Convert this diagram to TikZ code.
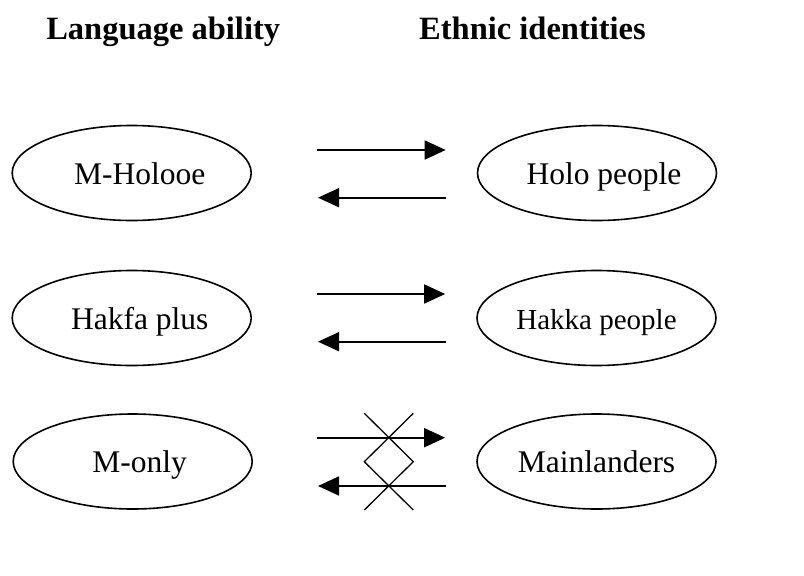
\documentclass[tikz,border=0pt]{standalone}
\usepackage{fontspec}
\setmainfont{Liberation Serif}
\usetikzlibrary{arrows.meta}
\usetikzlibrary{shapes.geometric}

\tikzset{
    group/.style={ellipse, draw, line width=1.6pt, minimum width=239pt, minimum height=95pt,
        inner sep=0pt, text height=22pt, text depth=0pt, font=\fontsize{31.5}{36}\selectfont},
    heading/.style={anchor=base, font=\bfseries\fontsize{32.5}{38}\selectfont},
    link/.style={line width=1.8pt, -{Triangle[length=21pt, width=19pt]}},
}

\begin{document}
\begin{tikzpicture}[x=1pt, y=-1pt]
        \useasboundingbox (0, 0) rectangle (804, 576);
        \node[heading] (hability) at (163.2, 39.5) {Language ability};
        \node[heading] (hidentity) at (532.5, 39.5) {Ethnic identities};
        %%%
        \node[group] (holooe) at (131.7, 173) {\hspace*{16pt}M-Holooe};
        \node[group] (hakfa) at (131.7, 318) {\hspace*{16pt}Hakfa plus};
        \node[group] (monly) at (132.7, 461.5) {\hspace*{14pt}M-only};
        \node[group] (holo) at (597, 173) {\hspace*{14pt}Holo people};
        \node[group, font=\fontsize{29}{34}\selectfont] (hakka) at (596.5, 318) {Hakka people};
        \node[group] (mainland) at (596.5, 461.5) {Mainlanders};
        %%%
        \draw[link, shorten <=65pt, shorten >=31pt] ([yshift=23pt]holooe.east) -- ([yshift=23pt]holo.west);
        \draw[link, shorten <=30.5pt, shorten >=66pt] ([yshift=-24.7pt]holo.west) -- ([yshift=-24.7pt]holooe.east);
        \draw[link, shorten <=65pt, shorten >=31pt] ([yshift=24pt]hakfa.east) -- ([yshift=24pt]hakka.west);
        \draw[link, shorten <=30.5pt, shorten >=66pt] ([yshift=-23.7pt]hakka.west) -- ([yshift=-23.7pt]hakfa.east);
        \draw[link, shorten <=64pt, shorten >=31pt] ([yshift=23.8pt]monly.east) -- ([yshift=23.8pt]mainland.west);
        \draw[link, shorten <=30.5pt, shorten >=65pt] ([yshift=-24.5pt]mainland.west) -- ([yshift=-24.5pt]monly.east);
        %%%
        \coordinate (cross) at (388.8, 461.7);
        \draw[line width=1.3pt] ([shift={(-24.5, -48.4)}]cross) -- ([shift={(24.5, 0)}]cross)
            -- ([shift={(-24.5, 48.3)}]cross);
        \draw[line width=1.3pt] ([shift={(24.5, -48.4)}]cross) -- ([shift={(-24.5, 0)}]cross)
            -- ([shift={(24.5, 48.3)}]cross);
\end{tikzpicture}
\end{document}
